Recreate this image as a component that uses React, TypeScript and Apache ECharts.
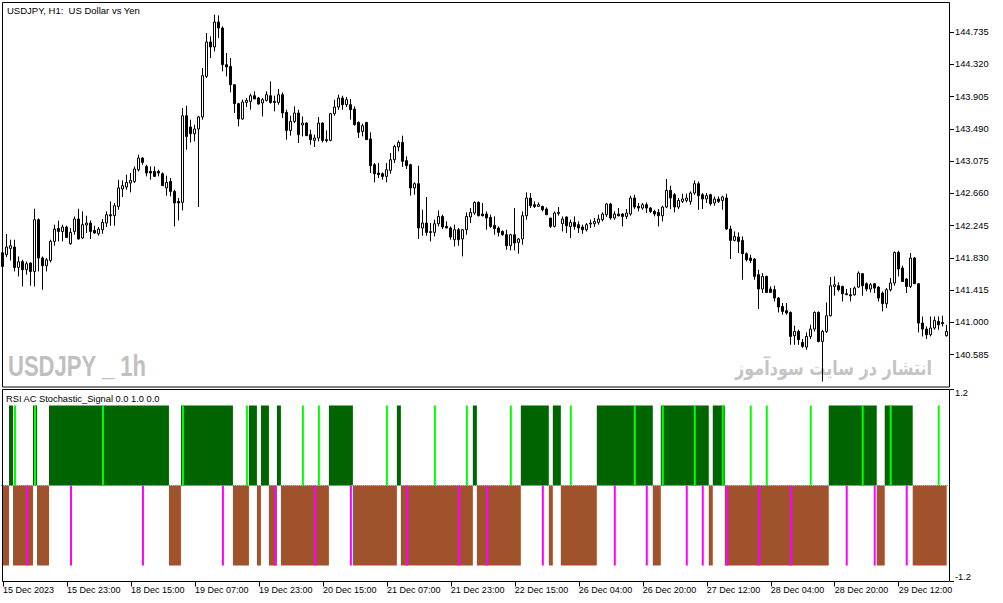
import React, { useEffect, useRef } from "react";
import * as echarts from "echarts";

// ---------- data ----------
const tickLabels = [
  "15 Dec 2023", "15 Dec 23:00", "18 Dec 15:00", "19 Dec 07:00", "19 Dec 23:00",
  "20 Dec 15:00", "21 Dec 07:00", "21 Dec 23:00", "22 Dec 15:00", "26 Dec 04:00",
  "26 Dec 20:00", "27 Dec 12:00", "28 Dec 04:00", "28 Dec 20:00", "29 Dec 12:00",
];

const priceTicks = [140.585, 141.0, 141.415, 141.83, 142.245, 142.66, 143.075, 143.49, 143.905, 144.32, 144.735];
const panelTicks = [-1.2, 1.2];

const opens = [
  141.896, 141.871, 141.952, 141.970, 141.707, 141.781, 141.678, 141.764, 141.656, 142.321,
  141.828, 141.729, 141.797, 142.042, 142.209, 142.170, 142.227, 142.012, 142.170, 142.330,
  142.086, 142.253, 142.278, 142.183, 142.141, 142.192, 142.278, 142.385, 142.372, 142.492,
  142.716, 142.741, 142.793, 142.813, 142.964, 143.114, 143.006, 142.942, 142.942, 142.942,
  142.912, 142.729, 142.813, 142.685, 142.556, 142.543, 143.658, 143.513, 143.427, 143.487,
  143.642, 144.164, 144.606, 144.542, 144.863, 144.786, 144.314, 144.292, 144.057, 143.813,
  143.616, 143.829, 143.842, 143.915, 143.886, 143.822, 143.855, 143.915, 143.842, 143.829,
  143.928, 143.701, 143.469, 143.585, 143.693, 143.539, 143.564, 143.414, 143.341, 143.371,
  143.564, 143.350, 143.341, 143.684, 143.770, 143.886, 143.800, 143.800, 143.744, 143.572,
  143.456, 143.572, 143.359, 143.028, 142.921, 142.912, 142.878, 142.955, 143.092, 143.256,
  143.315, 143.080, 143.028, 142.729, 142.784, 142.214, 142.278, 142.167, 142.158, 142.269,
  142.363, 142.235, 142.214, 142.064, 142.192, 142.073, 142.192, 142.356, 142.407, 142.543,
  142.394, 142.394, 142.350, 142.248, 142.214, 142.170, 142.128, 141.986, 142.128, 142.029,
  142.073, 142.372, 142.600, 142.514, 142.492, 142.492, 142.458, 142.343, 142.235, 142.402,
  142.269, 142.356, 142.235, 142.286, 142.257, 142.227, 142.192, 142.266, 142.269, 142.286,
  142.321, 142.385, 142.523, 142.343, 142.394, 142.394, 142.363, 142.394, 142.600, 142.492,
  142.471, 142.514, 142.471, 142.428, 142.415, 142.372, 142.484, 142.698, 142.642, 142.484,
  142.556, 142.569, 142.556, 142.664, 142.784, 142.642, 142.587, 142.642, 142.536, 142.587,
  142.569, 142.600, 142.201, 142.055, 142.098, 142.055, 141.884, 141.828, 141.815, 141.614,
  141.430, 141.592, 141.430, 141.421, 141.314, 141.206, 141.151, 141.129, 140.829, 140.884,
  140.743, 140.684, 140.820, 140.915, 141.129, 140.756, 140.884, 141.086, 141.463, 141.472,
  141.463, 141.369, 141.356, 141.356, 141.455, 141.627, 141.498, 141.430, 141.498, 141.455,
  141.378, 141.241, 141.421, 141.507, 141.900, 141.700, 141.558, 141.463, 141.828, 141.498,
  140.992, 140.915, 140.842, 140.928, 141.013, 141.000, 140.829,
];

const closes = [
  141.720, 141.970, 141.986, 141.707, 141.781, 141.678, 141.755, 141.656, 142.321, 141.828,
  141.729, 141.806, 142.042, 142.201, 142.170, 142.227, 142.093, 142.158, 142.330, 142.073,
  142.257, 142.278, 142.170, 142.150, 142.201, 142.286, 142.385, 142.372, 142.501, 142.729,
  142.758, 142.800, 142.826, 142.973, 143.114, 143.058, 142.921, 142.921, 142.878, 142.921,
  142.758, 142.800, 142.685, 142.536, 142.536, 143.658, 143.392, 143.427, 143.487, 143.642,
  144.173, 144.606, 144.542, 144.863, 144.786, 144.314, 144.285, 144.057, 143.813, 143.616,
  143.834, 143.855, 143.915, 143.873, 143.809, 143.864, 143.928, 143.829, 143.829, 143.928,
  143.693, 143.469, 143.585, 143.693, 143.414, 143.564, 143.401, 143.350, 143.371, 143.564,
  143.341, 143.337, 143.684, 143.770, 143.886, 143.800, 143.864, 143.735, 143.543, 143.444,
  143.530, 143.350, 143.015, 142.912, 142.900, 142.878, 142.964, 143.092, 143.263, 143.315,
  143.071, 143.015, 142.729, 142.784, 142.214, 142.278, 142.158, 142.158, 142.269, 142.363,
  142.227, 142.214, 142.098, 142.192, 142.064, 142.192, 142.363, 142.415, 142.543, 142.372,
  142.372, 142.343, 142.235, 142.205, 142.158, 142.128, 141.986, 142.128, 142.021, 142.073,
  142.372, 142.600, 142.501, 142.492, 142.514, 142.449, 142.385, 142.235, 142.407, 142.415,
  142.330, 142.244, 142.286, 142.235, 142.214, 142.192, 142.257, 142.278, 142.299, 142.330,
  142.394, 142.523, 142.343, 142.394, 142.372, 142.363, 142.407, 142.600, 142.484, 142.471,
  142.514, 142.471, 142.428, 142.394, 142.372, 142.484, 142.698, 142.600, 142.484, 142.569,
  142.587, 142.600, 142.664, 142.784, 142.630, 142.587, 142.630, 142.527, 142.587, 142.556,
  142.613, 142.201, 142.055, 142.106, 142.042, 141.884, 141.806, 141.797, 141.592, 141.430,
  141.592, 141.386, 141.386, 141.314, 141.198, 141.142, 141.121, 140.820, 140.884, 140.778,
  140.692, 140.820, 140.915, 141.129, 140.756, 140.884, 141.086, 141.472, 141.485, 141.421,
  141.369, 141.356, 141.344, 141.442, 141.635, 141.472, 141.430, 141.485, 141.442, 141.314,
  141.241, 141.421, 141.507, 141.900, 141.687, 141.527, 141.463, 141.828, 141.498, 140.992,
  140.915, 140.842, 140.928, 141.026, 140.970, 140.984, 140.884,
];

const lows = [
  141.703, 141.841, 141.797, 141.656, 141.592, 141.463, 141.614, 141.472, 141.463, 141.656,
  141.421, 141.656, 141.772, 141.986, 142.042, 142.042, 142.086, 141.999, 142.128, 142.064,
  142.073, 142.150, 142.073, 142.141, 142.115, 142.141, 142.227, 142.244, 142.244, 142.449,
  142.613, 142.707, 142.672, 142.793, 142.942, 143.028, 142.878, 142.835, 142.870, 142.878,
  142.758, 142.630, 142.621, 142.235, 142.312, 142.440, 143.221, 143.315, 143.328, 142.484,
  143.607, 144.143, 144.400, 144.485, 144.657, 144.228, 144.164, 143.958, 143.693, 143.521,
  143.607, 143.770, 143.735, 143.873, 143.800, 143.649, 143.842, 143.813, 143.714, 143.800,
  143.629, 143.350, 143.401, 143.564, 143.307, 143.392, 143.401, 143.285, 143.256, 143.328,
  143.315, 143.315, 143.328, 143.658, 143.735, 143.735, 143.770, 143.607, 143.530, 143.371,
  143.392, 143.350, 142.921, 142.801, 142.857, 142.835, 142.801, 142.912, 143.050, 143.199,
  142.999, 142.973, 142.630, 142.642, 142.073, 142.115, 142.115, 142.042, 142.106, 142.235,
  142.201, 142.214, 142.064, 141.977, 141.986, 141.849, 142.128, 142.278, 142.385, 142.363,
  142.363, 142.192, 142.214, 142.128, 142.106, 142.115, 141.935, 141.926, 141.926, 141.884,
  141.999, 142.321, 142.471, 142.471, 142.484, 142.428, 142.385, 142.214, 142.222, 142.372,
  142.170, 142.150, 142.086, 142.192, 142.150, 142.141, 142.170, 142.214, 142.227, 142.257,
  142.299, 142.356, 142.321, 142.321, 142.363, 142.235, 142.330, 142.372, 142.458, 142.428,
  142.449, 142.407, 142.407, 142.363, 142.235, 142.299, 142.471, 142.458, 142.415, 142.458,
  142.536, 142.543, 142.514, 142.642, 142.449, 142.458, 142.536, 142.501, 142.501, 142.536,
  142.449, 142.192, 141.815, 142.042, 141.893, 141.549, 141.784, 141.764, 141.549, 141.172,
  141.378, 141.378, 141.378, 141.270, 141.129, 141.099, 141.099, 140.713, 140.713, 140.713,
  140.671, 140.649, 140.787, 140.884, 140.743, 140.241, 140.864, 141.077, 141.344, 141.399,
  141.270, 141.356, 141.270, 141.344, 141.442, 141.344, 141.399, 141.386, 141.378, 141.270,
  141.142, 141.185, 141.399, 141.472, 141.592, 141.527, 141.378, 141.442, 141.498, 140.872,
  140.820, 140.787, 140.820, 140.906, 140.906, 140.949, 140.820,
];

const highs = [
  141.909, 142.137, 142.064, 142.064, 141.849, 141.806, 141.784, 141.772, 142.462, 142.338,
  141.849, 141.828, 142.064, 142.257, 142.308, 142.257, 142.244, 142.214, 142.363, 142.462,
  142.428, 142.372, 142.312, 142.244, 142.227, 142.330, 142.428, 142.556, 142.536, 142.835,
  142.826, 142.900, 142.921, 143.006, 143.157, 143.127, 143.028, 143.006, 143.006, 142.964,
  142.929, 142.887, 142.857, 142.707, 142.600, 143.757, 143.787, 143.607, 143.543, 143.658,
  144.272, 144.722, 144.678, 144.957, 144.948, 144.807, 144.465, 144.400, 144.057, 143.822,
  143.864, 143.886, 143.941, 143.971, 143.899, 143.886, 143.971, 144.099, 143.915, 144.002,
  143.958, 143.735, 143.658, 143.778, 143.735, 143.649, 143.572, 143.478, 143.414, 143.642,
  143.572, 143.469, 143.693, 143.864, 143.928, 143.915, 143.899, 143.873, 143.778, 143.585,
  143.555, 143.572, 143.444, 143.050, 143.050, 142.929, 143.050, 143.179, 143.285, 143.341,
  143.401, 143.135, 143.041, 142.801, 143.015, 142.449, 142.613, 142.278, 142.321, 142.440,
  142.385, 142.299, 142.235, 142.257, 142.214, 142.201, 142.415, 142.471, 142.556, 142.556,
  142.536, 142.428, 142.385, 142.363, 142.235, 142.183, 142.192, 142.141, 142.471, 142.086,
  142.428, 142.672, 142.664, 142.556, 142.543, 142.501, 142.479, 142.343, 142.428, 142.484,
  142.363, 142.363, 142.321, 142.363, 142.299, 142.257, 142.278, 142.321, 142.343, 142.385,
  142.415, 142.536, 142.536, 142.428, 142.471, 142.407, 142.458, 142.630, 142.642, 142.536,
  142.536, 142.543, 142.484, 142.449, 142.458, 142.501, 142.844, 142.758, 142.664, 142.600,
  142.655, 142.655, 142.685, 142.826, 142.813, 142.664, 142.664, 142.655, 142.620, 142.620,
  142.630, 142.655, 142.244, 142.170, 142.158, 142.106, 141.900, 141.871, 141.828, 141.678,
  141.635, 141.601, 141.463, 141.472, 141.327, 141.249, 141.249, 141.142, 140.958, 140.906,
  140.787, 140.872, 140.970, 141.142, 141.142, 140.906, 141.257, 141.584, 141.592, 141.515,
  141.472, 141.430, 141.442, 141.463, 141.656, 141.635, 141.515, 141.507, 141.507, 141.463,
  141.399, 141.442, 141.571, 141.913, 141.922, 141.729, 141.571, 141.893, 141.841, 141.498,
  141.077, 140.949, 141.077, 141.077, 141.077, 141.086, 140.970,
];

// indicator state per bar: 1 = up (green fill), -1 = down (brown fill)
const trendState = [
  -1, -1, 1, -1, -1, -1, -1, -1, 1, -1,
  -1, -1, 1, 1, 1, 1, 1, 1, 1, 1,
  1, 1, 1, 1, 1, 1, 1, 1, 1, 1,
  1, 1, 1, 1, 1, 1, 1, 1, 1, 1,
  1, 1, -1, -1, -1, 1, 1, 1, 1, 1,
  1, 1, 1, 1, 1, 1, 1, 1, -1, -1,
  -1, -1, 1, 1, -1, 1, 1, -1, -1, 1,
  -1, -1, -1, -1, -1, -1, -1, -1, -1, -1,
  -1, -1, 1, 1, 1, 1, 1, 1, -1, -1,
  -1, -1, -1, -1, -1, -1, -1, -1, -1, 1,
  -1, -1, -1, -1, -1, -1, -1, -1, -1, -1,
  -1, -1, -1, -1, -1, -1, -1, -1, 1, -1,
  -1, -1, -1, -1, -1, -1, -1, -1, -1, -1,
  1, 1, 1, 1, 1, 1, 1, -1, 1, 1,
  -1, -1, -1, -1, -1, -1, -1, -1, -1, 1,
  1, 1, 1, 1, 1, 1, 1, 1, 1, 1,
  1, 1, 1, -1, -1, 1, 1, 1, 1, 1,
  1, 1, 1, 1, 1, 1, 1, -1, 1, 1,
  1, -1, -1, -1, -1, -1, -1, -1, -1, -1,
  -1, -1, -1, -1, -1, -1, -1, -1, -1, -1,
  -1, -1, -1, -1, -1, -1, -1, 1, 1, 1,
  1, 1, 1, 1, 1, 1, 1, 1, 1, -1,
  -1, 1, 1, 1, 1, 1, 1, 1, -1, -1,
  -1, -1, -1, -1, -1, -1, -1,
];

// bars carrying a buy (lime) or sell (magenta) signal line
const limeBars = [3, 8, 25, 45, 61, 75, 79, 96, 108, 116, 127, 142, 158, 165, 173, 180, 187, 191, 202, 215, 222, 234];
const magentaBars = [6, 17, 35, 55, 68, 78, 87, 101, 114, 121, 135, 153, 161, 171, 175, 181, 189, 197, 211, 218, 226];

const FONT = '"Liberation Sans", Arial, sans-serif';

export default function App() {
  const ref = useRef<HTMLDivElement>(null);

  useEffect(() => {
    document.body.style.margin = "0";
    const el = ref.current;
    if (!el) return;
    const chart = echarts.init(el, undefined, { renderer: "svg", width: 1003, height: 603 });

    const cats = opens.map((_, i) => String(i));
    const candles = opens.map((o, i) => [o, closes[i], lows[i], highs[i]]);
    const greenVals = trendState.map((s) => (s > 0 ? 1 : 0));
    const brownVals = trendState.map((s) => (s < 0 ? -1 : 0));
    const limeSet = new Set(limeBars);
    const magSet = new Set(magentaBars);
    const limeVals = cats.map((_, i) => (limeSet.has(i) ? 1 : "-"));
    const magVals = cats.map((_, i) => (magSet.has(i) ? -1 : "-"));

    const option: any = {
      animation: false,
      backgroundColor: "#ffffff",
      textStyle: { fontFamily: FONT },
      grid: [
        { left: 0.7, top: 2, width: 948, height: 385 },
        { left: 0.7, top: 389.5, width: 948, height: 192 },
      ],
      xAxis: [
        { type: "category", data: cats, gridIndex: 0, show: false, boundaryGap: true },
        {
          type: "category",
          data: cats,
          gridIndex: 1,
          boundaryGap: true,
          position: "bottom",
          axisLine: { show: false, onZero: false },
          axisTick: { show: true, alignWithLabel: true, interval: 15, length: 5, lineStyle: { color: "#000", width: 1 } },
          axisLabel: {
            interval: 15,
            align: "left",
            margin: 4,
            fontSize: 9,
            color: "#000",
            fontFamily: FONT,
            formatter: (_v: string, i: number) => tickLabels[i / 16] ?? "",
          },
          splitLine: { show: false },
        },
      ],
      yAxis: [
        {
          type: "value",
          gridIndex: 0,
          position: "right",
          offset: 1.3,
          min: 140.17,
          max: 145.12,
          splitLine: { show: false },
          axisLine: { show: false },
          axisTick: { show: true, length: 4, customValues: priceTicks, lineStyle: { color: "#000" } },
          axisLabel: {
            customValues: priceTicks,
            margin: 5,
            fontSize: 9.3,
            color: "#000",
            fontFamily: FONT,
            formatter: (v: number) => v.toFixed(3),
          },
        },
        {
          type: "value",
          gridIndex: 1,
          position: "right",
          offset: 1.3,
          min: -1.2,
          max: 1.2,
          splitLine: { show: false },
          axisLine: { show: false },
          axisTick: { show: true, length: 4, customValues: panelTicks, lineStyle: { color: "#000" } },
          axisLabel: {
            customValues: panelTicks,
            margin: 5,
            fontSize: 9.3,
            color: "#000",
            fontFamily: FONT,
            formatter: (v: number) => (v > 0 ? "{t|" : "{b|") + v.toFixed(1) + "}",
            rich: {
              t: { padding: [7, 0, 0, 0], fontSize: 9.3, color: "#000", fontFamily: FONT },
              b: { padding: [0, 0, 9, 0], fontSize: 9.3, color: "#000", fontFamily: FONT },
            },
          },
        },
      ],
      series: [
        {
          type: "candlestick",
          xAxisIndex: 0,
          yAxisIndex: 0,
          data: candles,
          barWidth: 2,
          itemStyle: {
            color: "#ffffff",
            color0: "#000000",
            borderColor: "#000000",
            borderColor0: "#000000",
            borderWidth: 1,
          },
          z: 3,
        },
        {
          type: "line",
          xAxisIndex: 1,
          yAxisIndex: 1,
          data: greenVals,
          step: "middle",
          symbol: "none",
          lineStyle: { opacity: 0, width: 0 },
          areaStyle: { color: "#006400", opacity: 1 },
          z: 2,
        },
        {
          type: "line",
          xAxisIndex: 1,
          yAxisIndex: 1,
          data: brownVals,
          step: "middle",
          symbol: "none",
          lineStyle: { opacity: 0, width: 0 },
          areaStyle: { color: "#A0522D", opacity: 1 },
          z: 2,
          markLine: {
            silent: true,
            symbol: ["none", "none"],
            label: { show: false },
            lineStyle: { type: "dotted", color: "#6b8e8e", width: 1 },
            data: [{ yAxis: 0 }],
          },
        },
        {
          type: "bar",
          xAxisIndex: 1,
          yAxisIndex: 1,
          data: limeVals,
          barWidth: 2,
          barGap: "-100%",
          itemStyle: { color: "#00FF00" },
          z: 4,
        },
        {
          type: "bar",
          xAxisIndex: 1,
          yAxisIndex: 1,
          data: magVals,
          barWidth: 2,
          barGap: "-100%",
          itemStyle: { color: "#FF00FF" },
          z: 4,
        },
      ],
      graphic: [
        {
          type: "text",
          x: 8,
          y: 366,
          scaleX: 0.735,
          z: -1,
          silent: true,
          style: {
            text: "USDJPY _ 1h",
            fontFamily: FONT,
            fontWeight: "bold",
            fontSize: 30,
            fill: "#c0c0c0",
            align: "left",
            verticalAlign: "middle",
          },
        },
        {
          type: "text",
          x: 932,
          y: 368,
          scaleX: 0.8,
          z: -1,
          silent: true,
          style: {
            text: "انتشار در سایت سودآموز",
            fontFamily: '"DejaVu Sans", sans-serif',
            fontWeight: "bold",
            fontSize: 20,
            fill: "#c4c4c4",
            align: "right",
            verticalAlign: "middle",
          },
        },
        {
          type: "text",
          x: 7,
          y: 10,
          silent: true,
          style: {
            text: "USDJPY, H1:  US Dollar vs Yen",
            fontFamily: FONT,
            fontSize: 9.5,
            fill: "#000",
            align: "left",
            verticalAlign: "middle",
          },
        },
        {
          type: "text",
          x: 6,
          y: 398.5,
          silent: true,
          z: 10,
          style: {
            text: "RSI AC Stochastic_Signal 0.0 1.0 0.0",
            fontFamily: FONT,
            fontSize: 9.3,
            fill: "#000",
            align: "left",
            verticalAlign: "middle",
          },
        },
        {
          type: "rect",
          silent: true,
          z: 100,
          shape: { x: 2.5, y: 2.5, width: 947, height: 384.5 },
          style: { fill: "none", stroke: "#000", lineWidth: 1 },
        },
        {
          type: "rect",
          silent: true,
          z: 100,
          shape: { x: 2.5, y: 389.5, width: 947, height: 192 },
          style: { fill: "none", stroke: "#000", lineWidth: 1 },
        },
      ],
    };

    chart.setOption(option);
    return () => {
      chart.dispose();
    };
  }, []);

  return <div ref={ref} style={{ width: 1003, height: 603, background: "#fff" }} />;
}
